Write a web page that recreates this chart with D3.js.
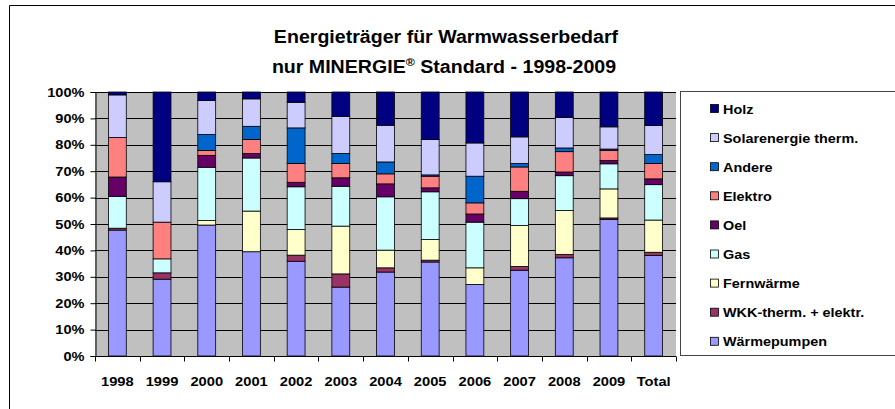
<!DOCTYPE html>
<html><head><meta charset="utf-8">
<script src="https://cdn.jsdelivr.net/npm/d3@7"></script>
<style>
html,body{margin:0;padding:0;background:#fff;}
svg text{font-family:"Liberation Sans",Arial,sans-serif;font-weight:bold;fill:#000;}
</style></head>
<body><svg id="c" width="895" height="409"></svg>
<script>
const categories = ["1998","1999","2000","2001","2002","2003","2004","2005","2006","2007","2008","2009","Total"];
const seriesNames = ["Wärmepumpen","WKK-therm. + elektr.","Fernwärme","Gas","Oel","Elektro","Andere","Solarenergie therm.","Holz"];
const seriesColors = ["#9999FF","#993366","#FFFFCC","#CCFFFF","#660066","#FF8080","#0066CC","#CCCCFF","#000080"];
const waermepumpen = [47.7,29.1,49.6,39.5,35.9,26.1,31.8,35.6,27.1,32.5,37.2,51.7,38.1];
const wkk          = [0.7,2.4,0,0,2.3,5.0,1.6,0.7,0,1.4,1.3,0.6,1.2];
const fernwaerme   = [0,0,1.7,15.4,9.7,18.1,6.7,7.8,6.3,15.5,16.6,11.0,12.2];
const gas          = [12.1,5.3,20.2,20.1,16.2,15.1,20.2,18.1,17.3,10.2,13.2,9.5,13.4];
const oel          = [7.3,0,4.5,1.7,1.7,3.2,4.9,1.5,3.1,2.8,1.4,1.3,2.2];
const elektro      = [15.0,13.9,1.8,5.3,7.1,5.4,3.8,4.4,4.2,9.2,7.7,3.8,5.8];
const andere       = [0,0,6.1,5.0,13.5,3.8,4.5,0.5,10.1,1.3,1.4,0.5,3.4];
const solar        = [16.1,15.3,12.9,10.4,9.7,14.1,13.9,13.4,12.6,10.1,11.6,8.4,11.0];
const holz         = [1.1,34.0,3.2,2.6,3.9,9.2,12.6,18.0,19.3,17.0,9.6,13.2,12.7];
const yTicks = [0,0.1,0.2,0.3,0.4,0.5,0.6,0.7,0.8,0.9,1.0];

const seriesValues = [waermepumpen,wkk,fernwaerme,gas,oel,elektro,andere,solar,holz];
const rows = categories.map((c,i)=>{const r={cat:c}; seriesNames.forEach((s,j)=>r[s]=seriesValues[j][i]); return r;});
const stack = d3.stack().keys(seriesNames).offset(d3.stackOffsetExpand)(rows);

const svg = d3.select("#c");
const L=95, R=676, T=92, B=356;

// outer chart border
svg.append("path").attr("d","M9.5,420 V5.5 H900").attr("fill","none").attr("stroke","#000").attr("stroke-width",1);

const x = d3.scaleBand().domain(categories).range([L,R]).paddingInner(0.6).paddingOuter(0.3);
const y = d3.scaleLinear().domain([0,1]).range([B,T]);

svg.append("rect").attr("x",L).attr("y",T).attr("width",R-L).attr("height",B-T).attr("fill","#C0C0C0");

// gridlines
svg.append("g").selectAll("line").data(yTicks.slice(1)).join("line")
  .attr("x1",L).attr("x2",R).attr("y1",d=>Math.round(y(d))+0.5).attr("y2",d=>Math.round(y(d))+0.5)
  .attr("stroke","#000").attr("stroke-width",1);

// bars
const g = svg.append("g");
stack.forEach((layer,j)=>{
  g.append("g").selectAll("rect").data(layer).join("rect")
    .attr("x",d=>x(d.data.cat)).attr("width",x.bandwidth())
    .attr("y",d=>y(d[1])).attr("height",d=>Math.max(0,y(d[0])-y(d[1])))
    .attr("fill",seriesColors[j])
    .attr("stroke",d=>(d[1]-d[0])>0?"#000":"none").attr("stroke-width",0.8);
});

// y axis
const yAxis = d3.axisLeft(y).tickValues(yTicks).tickFormat(d3.format(".0%")).tickSize(5).tickPadding(6);
const ya = svg.append("g").attr("transform",`translate(${L+0.5},0)`).call(yAxis);
ya.select(".domain").attr("stroke","#000");
ya.selectAll("line").attr("stroke","#000");
ya.selectAll("text").attr("font-size",13).attr("font-family","Liberation Sans").attr("font-weight","bold")
  .each(function(){const t=d3.select(this); const xx=+t.attr("x"); t.attr("transform",`translate(${xx},0) scale(1.12,1)`).attr("x",0);});

// x axis with ticks at category boundaries
const xa = svg.append("g").attr("transform",`translate(0,${B+0.5})`);
xa.append("line").attr("x1",L).attr("x2",R).attr("stroke","#000");
const step = x.step();
xa.selectAll("line.tk").data(d3.range(categories.length+1)).join("line").attr("class","tk")
  .attr("x1",i=>Math.round(L+i*step)+0.5).attr("x2",i=>Math.round(L+i*step)+0.5).attr("y1",0).attr("y2",5).attr("stroke","#000");
xa.selectAll("text").data(categories).join("text")
  .attr("transform",d=>`translate(${x(d)+x.bandwidth()/2},${385-B}) scale(1.13,1)`)
  .attr("text-anchor","middle").attr("font-size",13).text(d=>d);

// title
svg.append("text").attr("transform","translate(446,43) scale(1.12,1)").attr("text-anchor","middle")
  .attr("font-size",17.5).text("Energieträger für Warmwasserbedarf");
const t2 = svg.append("text").attr("transform","translate(444,73) scale(1.12,1)").attr("text-anchor","middle").attr("font-size",17.5);
t2.append("tspan").text("nur MINERGIE");
t2.append("tspan").attr("font-size",11).attr("dy",-7).text("®");
t2.append("tspan").attr("dy",7).text(" Standard - 1998-2009");

// legend
const lg = svg.append("g");
lg.append("rect").attr("x",680.5).attr("y",91.5).attr("width",240).attr("height",264).attr("fill","#fff").attr("stroke","#444").attr("stroke-width",1);
const legendOrder = seriesNames.map((s,j)=>j).reverse();
legendOrder.forEach((j,k)=>{
  const cy = 109 + k*29.1;
  lg.append("rect").attr("x",710.5).attr("y",cy-4.5).attr("width",8).attr("height",8)
    .attr("fill",seriesColors[j]).attr("stroke","#000").attr("stroke-width",0.8);
  lg.append("text").attr("transform",`translate(723,${cy+4.5}) scale(1.2,1)`).attr("font-size",12).text(seriesNames[j]);
});
</script></body></html>
